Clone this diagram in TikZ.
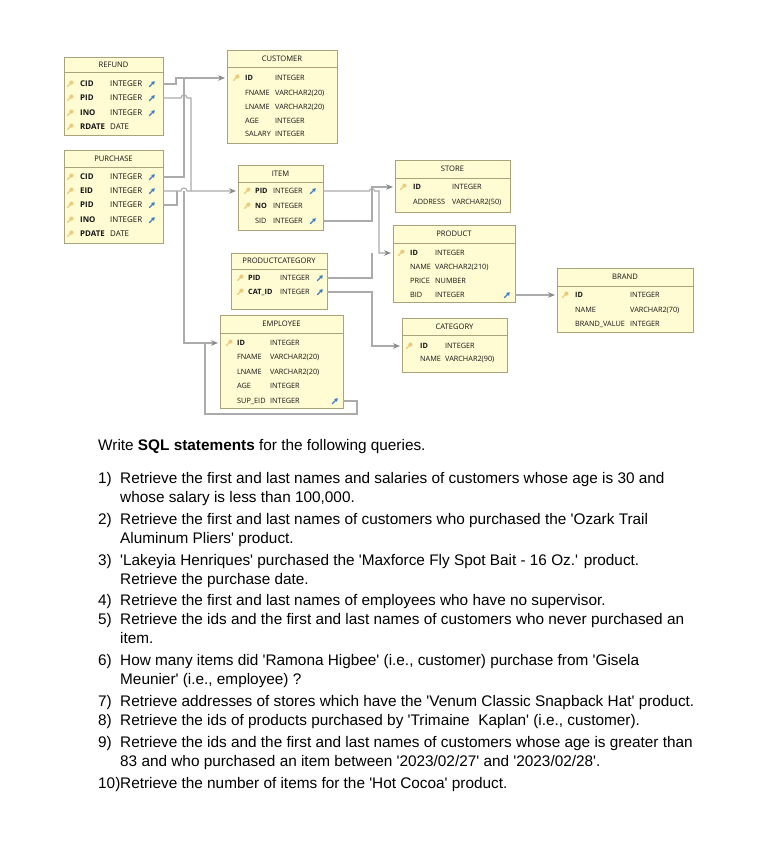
\documentclass[tikz,border=0pt]{standalone}
\usepackage{fontspec}
\setmainfont{Liberation Sans}[Ligatures=TeXOff]
\newfontfamily\tfont{Open Sans}
\usetikzlibrary{arrows.meta}
\definecolor{tblfill}{HTML}{FFFBD2}
\definecolor{tbldraw}{HTML}{ABA27A}
\definecolor{connc}{HTML}{ABABAB}
\definecolor{arrc}{HTML}{8A8A8A}
\definecolor{keyc}{HTML}{EDC97C}
\definecolor{fkc}{HTML}{3D7CC0}
\definecolor{txtc}{HTML}{141414}
\def\rowfs{7.3}
\tikzset{
  tbl/.style={draw=tbldraw, fill=tblfill, line width=0.8pt, anchor=north west, inner sep=0pt, outer sep=0pt},
  sepline/.style={draw=tbldraw, line width=0.6pt},
  ttl/.style={font=\tfont\fontsize{7.6}{9}\selectfont, text=txtc, inner sep=0pt, text height=5.4pt, text depth=0pt},
  col/.style={font=\tfont\fontsize{\rowfs}{9}\selectfont, text=txtc, anchor=west, inner sep=0pt, text height=5.2pt, text depth=0pt},
  pk/.style={col, font=\tfont\bfseries\fontsize{\rowfs}{9}\selectfont},
  conn/.style={draw=connc, line width=1.1pt},
  arr/.style={-{Stealth[length=7pt,width=5.5pt,color=arrc]}, shorten >=2pt},
  qtext/.style={font=\fontsize{15.35}{19}\selectfont, anchor=base west, inner sep=0pt},
  pkey/.pic={\draw[keyc, line width=1.1pt, line cap=round] (-2.6,2.6) -- (0.5,-0.5); \fill[keyc] (1.4,-1.4) circle[radius=2.1pt];},
  fkey/.pic={\draw[fkc, line width=1.2pt, -{Triangle[length=3.2pt,width=3.8pt]}] (-2.8,2.8) -- (2.8,-2.8);}
}
% name, x, y, w, h, divider, title
\newcommand\dbtable[7]{%
  \node[tbl, minimum width=#4pt, minimum height=#5pt] (#1) at (#2,#3) {};
  \draw[sepline] ([yshift=-#6pt]#1.north west) -- ([yshift=-#6pt]#1.north east);
  \node[ttl] (#1-title) at ([yshift=-#6pt/2]#1.north) {#7};
}
% name, y, xcol, style, colname, xtype, type
\newcommand\dbrow[7]{%
  \node[#4] (#1) at (#3,#2) {#5};
  \node[col] (#1-type) at (#6,#2) {#7};
}
\begin{document}
\begin{tikzpicture}[x=1pt,y=-1pt]
\fill[white] (0,0) rectangle (757,856);
\useasboundingbox (0,0) rectangle (757,856);

% ---------- tables ----------
\def\rowfs{7.9}
\dbtable{refund}{64}{57}{99}{78}{15}{REFUND}
\dbrow{rf-cid}{84}{80}{pk}{CID}{110}{INTEGER}
\dbrow{rf-pid}{98}{80}{pk}{PID}{110}{INTEGER}
\dbrow{rf-ino}{113}{80}{pk}{INO}{110}{INTEGER}
\dbrow{rf-rdate}{127}{80}{pk}{RDATE}{110}{DATE}
\foreach \yy in {84,98,113,127} {\pic at (70,\yy) {pkey};}
\foreach \yy in {84,98,113} {\pic at (152,\yy) {fkey};}

\dbtable{purchase}{64}{150}{99}{93}{17}{PURCHASE}
\dbrow{pu-cid}{177}{80}{pk}{CID}{110}{INTEGER}
\dbrow{pu-eid}{191}{80}{pk}{EID}{110}{INTEGER}
\dbrow{pu-pid}{205}{80}{pk}{PID}{110}{INTEGER}
\dbrow{pu-ino}{220}{80}{pk}{INO}{110}{INTEGER}
\dbrow{pu-pdate}{234}{80}{pk}{PDATE}{110}{DATE}
\foreach \yy in {177,191,205,220,234} {\pic at (70,\yy) {pkey};}
\foreach \yy in {177,191,205,220} {\pic at (152,\yy) {fkey};}

\def\rowfs{7.3}
\dbtable{customer}{227}{50}{110}{93}{17}{CUSTOMER}
\dbrow{cu-id}{78}{245}{pk}{ID}{275}{INTEGER}
\dbrow{cu-fname}{93}{245}{col}{FNAME}{275}{VARCHAR2(20)}
\dbrow{cu-lname}{107}{245}{col}{LNAME}{275}{VARCHAR2(20)}
\dbrow{cu-age}{121}{245}{col}{AGE}{275}{INTEGER}
\dbrow{cu-salary}{134}{245}{col}{SALARY}{275}{INTEGER}
\pic at (236,78) {pkey};

\dbtable{item}{238}{165}{85}{65}{17}{ITEM}
\dbrow{it-pid}{191}{255}{pk}{PID}{273}{INTEGER}
\dbrow{it-no}{206}{255}{pk}{NO}{273}{INTEGER}
\dbrow{it-sid}{221}{255}{col}{SID}{273}{INTEGER}
\pic at (247,191) {pkey};
\pic at (247,206) {pkey};
\pic at (313,191) {fkey};
\pic at (313,221) {fkey};

\dbtable{pc}{231}{253}{96}{56}{16}{PRODUCTCATEGORY}
\dbrow{pc-pid}{278}{248}{pk}{PID}{280}{INTEGER}
\dbrow{pc-cat}{292}{248}{pk}{CAT\_ID}{280}{INTEGER}
\pic at (240,278) {pkey};
\pic at (240,292) {pkey};
\pic at (320,278) {fkey};
\pic at (320,292) {fkey};

\dbtable{employee}{220}{315}{123}{93}{18}{EMPLOYEE}
\dbrow{em-id}{343}{237}{pk}{ID}{270}{INTEGER}
\dbrow{em-fname}{357}{237}{col}{FNAME}{270}{VARCHAR2(20)}
\dbrow{em-lname}{372}{237}{col}{LNAME}{270}{VARCHAR2(20)}
\dbrow{em-age}{386}{237}{col}{AGE}{270}{INTEGER}
\dbrow{em-sup}{401}{237}{col}{SUP\_EID}{270}{INTEGER}
\pic at (229,343) {pkey};
\pic at (335,401) {fkey};

\dbtable{store}{395}{160}{115}{52}{18}{STORE}
\dbrow{st-id}{187}{413}{pk}{ID}{452}{INTEGER}
\dbrow{st-addr}{202}{413}{col}{ADDRESS}{452}{VARCHAR2(50)}
\pic at (403,187) {pkey};

\dbtable{product}{393}{225}{122}{77}{18}{PRODUCT}
\dbrow{pr-id}{253}{410}{pk}{ID}{435}{INTEGER}
\dbrow{pr-name}{267}{410}{col}{NAME}{435}{VARCHAR2(210)}
\dbrow{pr-price}{281}{410}{col}{PRICE}{435}{NUMBER}
\dbrow{pr-bid}{295}{410}{col}{BID}{435}{INTEGER}
\pic at (401,253) {pkey};
\pic at (507,295) {fkey};

\dbtable{category}{402}{318}{105}{54}{17}{CATEGORY}
\dbrow{ca-id}{346}{420}{pk}{ID}{445}{INTEGER}
\dbrow{ca-name}{359}{420}{col}{NAME}{445}{VARCHAR2(90)}
\pic at (409,346) {pkey};

\dbtable{brand}{557}{268}{136}{64}{18}{BRAND}
\dbrow{br-id}{295}{575}{pk}{ID}{630}{INTEGER}
\dbrow{br-name}{310}{575}{col}{NAME}{630}{VARCHAR2(70)}
\dbrow{br-val}{324}{575}{col}{BRAND\_VALUE}{630}{INTEGER}
\pic at (565,295) {pkey};

% ---------- junctions ----------
\coordinate (jCust) at (184,78);
\coordinate (jItem) at (191,191);
\coordinate (jItem2) at (177,191);
\coordinate (jEmp) at (184,191);
\coordinate (jEmp2) at (205,343);
\coordinate (jProd) at (372,253);

% ---------- connectors ----------
\draw[conn,arr] (refund.east |- rf-cid) -- (176,84) -- (176,78) -- (customer.west |- cu-id);
\draw[conn] (purchase.east |- pu-cid) -| (jCust);
\draw[conn] (refund.east |- rf-pid) -- (181,98) arc[start angle=180,end angle=0,radius=3pt] -| (jItem);
\draw[conn] (purchase.east |- pu-pid) -| (jItem2);
\draw[conn,arr] (purchase.east |- pu-eid) -- (181,191) arc[start angle=180,end angle=0,radius=3pt] -- (item.west |- it-pid);
\draw[conn,arr] (jEmp) |- (employee.west |- em-id);
\draw[conn] (employee.east |- em-sup) -- (357,401) -- (357,414) -- (205,414) -- (jEmp2);
\draw[conn,arr] (item.east |- it-sid) -- (372,221) -- (372,187) -- (store.west |- st-id);
\draw[conn,arr] (item.east |- it-pid) -- (369.5,191) arc[start angle=180,end angle=0,radius=2.5pt] -- (379,191) |- (product.west |- pr-id);
\draw[conn] (pc.east |- pc-pid) -| (jProd);
\draw[conn,arr] (pc.east |- pc-cat) -- (372,292) |- (category.west |- ca-id);
\draw[conn,arr] (product.east |- pr-bid) -- (brand.west |- br-id);

% ---------- questions ----------
\node[qtext] (t0) at (98,450) {Write \textbf{SQL statements} for the following queries.};
\node[qtext] (n1) at (98,483) {1)};
\node[qtext] (q1a) at (120,483) {Retrieve the first and last names and salaries of customers whose age is 30 and};
\node[qtext] (q1b) at (120,502) {whose salary is less than 100,000.};
\node[qtext] (n2) at (98,524) {2)};
\node[qtext] (q2a) at (120,524) {Retrieve the first and last names of customers who purchased the 'Ozark Trail};
\node[qtext] (q2b) at (120,543) {Aluminum Pliers' product.};
\node[qtext] (n3) at (98,565) {3)};
\node[qtext] (q3a) at (120,565) {'Lakeyia Henriques' purchased the 'Maxforce Fly Spot Bait - 16 Oz.' product.};
\node[qtext] (q3b) at (120,584) {Retrieve the purchase date.};
\node[qtext] (n4) at (98,605) {4)};
\node[qtext] (q4a) at (120,605) {Retrieve the first and last names of employees who have no supervisor.};
\node[qtext] (n5) at (98,624) {5)};
\node[qtext] (q5a) at (120,624) {Retrieve the ids and the first and last names of customers who never purchased an};
\node[qtext] (q5b) at (120,643) {item.};
\node[qtext] (n6) at (98,665) {6)};
\node[qtext] (q6a) at (120,665) {How many items did 'Ramona Higbee' (i.e., customer) purchase from 'Gisela};
\node[qtext] (q6b) at (120,684) {Meunier' (i.e., employee) ?};
\node[qtext] (n7) at (98,706) {7)};
\node[qtext] (q7a) at (120,706) {Retrieve addresses of stores which have the 'Venum Classic Snapback Hat' product.};
\node[qtext] (n8) at (98,725) {8)};
\node[qtext] (q8a) at (120,725) {Retrieve the ids of products purchased by 'Trimaine\ \ Kaplan' (i.e., customer).};
\node[qtext] (n9) at (98,747) {9)};
\node[qtext] (q9a) at (120,747) {Retrieve the ids and the first and last names of customers whose age is greater than};
\node[qtext] (q9b) at (120,766) {83 and who purchased an item between '2023/02/27' and '2023/02/28'.};
\node[qtext] (n10) at (98,788) {10)};
\node[qtext] (q10a) at (120,788) {Retrieve the number of items for the 'Hot Cocoa' product.};
\end{tikzpicture}
\end{document}
